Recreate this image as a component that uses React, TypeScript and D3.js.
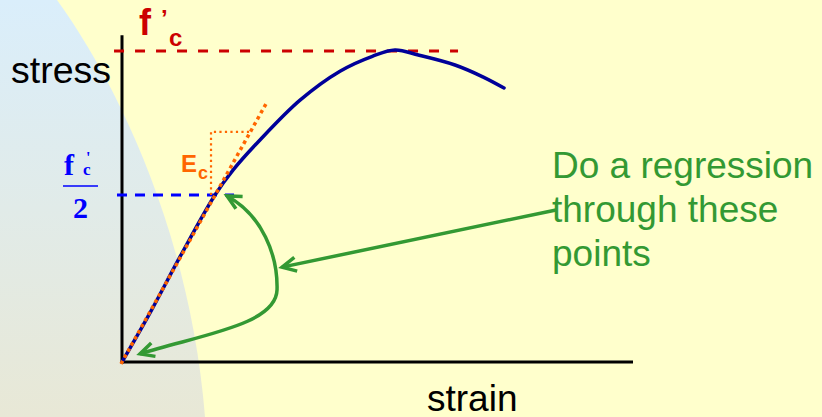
import React from "react";
import * as d3 from "d3";

// Stress-strain curve of concrete: strain (‰) vs normalized stress (σ / f'c)
const curveStrain = [0, 0.274, 0.567, 0.91, 1.086, 1.35, 1.742, 2.133, 2.45, 2.671, 2.90, 3.258, 3.530, 3.738];
const curveStress = [0, 0.158, 0.338, 0.537, 0.617, 0.714, 0.842, 0.935, 0.983, 1.003, 0.987, 0.955, 0.917, 0.881];

const axisStrainMax = 5;
const axisStressMax = 1.051;

const fcLevel = 1.0; // f'c
const fcLineStrain = [-0.078, 3.288];
const halfLevel = 0.537; // f'c / 2 as drawn
const halfLineStrain = [-0.049, 1.096];

// Ec tangent line and its slope triangle
const ecStrain = [-0.01, 1.419];
const ecStress = [-0.006, 0.836];
const triStrain = [0.871, 0.871, 1.272];
const triStress = [0.537, 0.740, 0.740];

// Annotation arrows (data coordinates)
const straightArrowStrain = [4.247, 1.566];
const straightArrowStress = [0.489, 0.305];
const curvedArrowStrain = [1.027, 1.37, 1.526, 1.517, 1.507, 0.763, 0.176];
const curvedArrowStress = [0.534, 0.473, 0.344, 0.232, 0.119, 0.087, 0.026];

const noteLines = ["Do a regression", "through these", "points"];

const W = 822;
const H = 417;

export default function App() {
  const x = d3.scaleLinear().domain([0, axisStrainMax]).range([122, 633]);
  const y = d3.scaleLinear().domain([0, fcLevel]).range([362, 51]);

  const pts: [number, number][] = curveStrain.map((s, i) => [x(s), y(curveStress[i])]);
  const curvePath = d3.line().curve(d3.curveCatmullRom.alpha(0.5))(pts) || "";

  const c = curvedArrowStrain.map((s, i) => [x(s), y(curvedArrowStress[i])]);
  const curvedPath = `M${c[0][0]},${c[0][1]} C${c[1][0]},${c[1][1]} ${c[2][0]},${c[2][1]} ${c[3][0]},${c[3][1]} C${c[4][0]},${c[4][1]} ${c[5][0]},${c[5][1]} ${c[6][0]},${c[6][1]}`;

  const triPath = d3.line()(triStrain.map((s, i) => [x(s), y(triStress[i])] as [number, number])) || "";

  const green = "#339933";
  const sans = "'Liberation Sans', Arial, sans-serif";
  const serif = "'Liberation Serif', 'Times New Roman', serif";

  return (
    <svg width={W} height={H} style={{ position: "absolute", left: 0, top: 0 }} xmlns="http://www.w3.org/2000/svg">
      <defs>
        <linearGradient id="bgLeft" x1="0" y1="0" x2="0" y2="1">
          <stop offset="0" stopColor="#DAEEFB" />
          <stop offset="1" stopColor="#E8E8D6" />
        </linearGradient>
        <marker id="ah" markerUnits="userSpaceOnUse" markerWidth="30" markerHeight="30" refX="0" refY="0" viewBox="-20 -15 30 30" orient="auto-start-reverse" overflow="visible">
          <path d="M-14,-7 L0,0 L-14,7" fill="none" stroke={green} strokeWidth={3.5} strokeLinejoin="miter" />
        </marker>
      </defs>
      <rect x={0} y={0} width={W} height={H} fill="#FFFFCC" />
      <path d="M0,0 L57,0 C115,80 190,230 205,417 L0,417 Z" fill="url(#bgLeft)" />

      {/* axes */}
      <line x1={x(0)} y1={y(0)} x2={x(axisStrainMax)} y2={y(0)} stroke="#000" strokeWidth={3} />
      <line x1={x(0)} y1={y(0) + 1.5} x2={x(0)} y2={y(axisStressMax)} stroke="#000" strokeWidth={3} />

      {/* f'c line */}
      <line x1={x(fcLineStrain[0])} y1={y(fcLevel)} x2={x(fcLineStrain[1])} y2={y(fcLevel)} stroke="#CC0000" strokeWidth={3} strokeDasharray="10 11" />
      {/* f'c/2 line */}
      <line x1={x(halfLineStrain[0])} y1={y(halfLevel)} x2={x(halfLineStrain[1])} y2={y(halfLevel)} stroke="#0000FF" strokeWidth={3} strokeDasharray="10 8" />

      {/* stress-strain curve */}
      <path d={curvePath} fill="none" stroke="#000099" strokeWidth={3.5} strokeLinecap="round" />

      {/* Ec tangent */}
      <line x1={x(ecStrain[0])} y1={y(ecStress[0])} x2={x(ecStrain[1])} y2={y(ecStress[1])} stroke="#FF6600" strokeWidth={3.5} strokeDasharray="3.5 3.5" />
      <path d={triPath} fill="none" stroke="#FF6600" strokeWidth={2.2} strokeDasharray="2.2 3.3" />

      {/* arrows */}
      <path d={curvedPath} fill="none" stroke={green} strokeWidth={3.5} markerStart="url(#ah)" markerEnd="url(#ah)" />
      <line x1={x(straightArrowStrain[0])} y1={y(straightArrowStress[0])} x2={x(straightArrowStrain[1])} y2={y(straightArrowStress[1])} stroke={green} strokeWidth={3.5} markerEnd="url(#ah)" />

      {/* labels */}
      <text x={11} y={83} fontFamily={sans} fontSize={37.5} fill="#000">stress</text>
      <text x={427} y={411} fontFamily={sans} fontSize={37} fill="#000">strain</text>

      <text x={139} y={35} fontFamily={sans} fontSize={36} fontWeight="bold" fill="#CC0000">f</text>
      <text x={161} y={27} fontFamily={sans} fontSize={24} fontWeight="bold" fill="#CC0000">’</text>
      <text x={169} y={46} fontFamily={sans} fontSize={24} fontWeight="bold" fill="#CC0000">c</text>

      <text x={181} y={172} fontFamily={sans} fontSize={24} fontWeight="bold" fill="#FF6600">E</text>
      <text x={198} y={179} fontFamily={sans} fontSize={18} fontWeight="bold" fill="#FF6600">c</text>

      <text x={64} y={175} fontFamily={serif} fontSize={30} fontWeight="bold" fill="#0000FF">f</text>
      <text x={86} y={163} fontFamily={serif} fontSize={16} fontWeight="bold" fill="#0000FF">'</text>
      <text x={83} y={175} fontFamily={serif} fontSize={17} fontWeight="bold" fill="#0000FF">c</text>
      <line x1={63} y1={186} x2={98} y2={186} stroke="#0000FF" strokeWidth={1.5} />
      <text x={73} y={218} fontFamily={serif} fontSize={30} fontWeight="bold" fill="#0000FF">2</text>

      {noteLines.map((t, i) => (
        <text key={i} x={552} y={178 + i * 44} fontFamily={sans} fontSize={37} fill={green}>{t}</text>
      ))}
    </svg>
  );
}
